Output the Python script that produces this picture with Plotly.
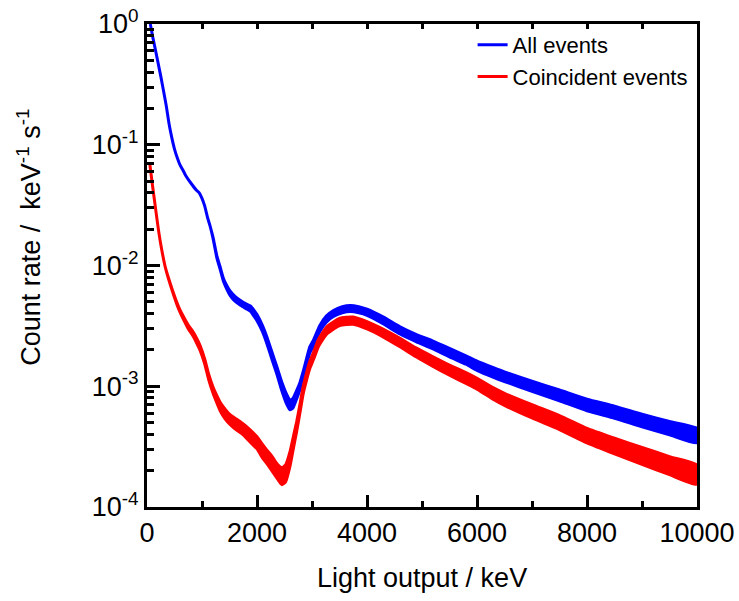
import plotly.graph_objects as go

# ---- data (keV, counts / keV / s) ----
energy_all = [60, 100, 150, 200, 250, 300, 350, 400, 450, 500,
              550, 600, 650, 700, 800, 900, 950, 1000, 1050, 1100,
              1150, 1200, 1270, 1330, 1390, 1450, 1510, 1600, 1700, 1800,
              1880, 1950, 2000, 2100, 2180, 2270, 2360, 2450, 2540, 2600,
              2650, 2720, 2780, 2850, 2960, 3030, 3140, 3260, 3390, 3550,
              3700, 3850, 4000, 4300, 4600, 4900, 5200, 5500, 5800, 6000,
              6300, 6500, 7000, 7500, 8000, 8500, 9000, 9500, 10000]
rate_all = [1.0, 0.80, 0.62, 0.48, 0.37, 0.28, 0.21, 0.15, 0.115, 0.092,
            0.078, 0.068, 0.062, 0.056, 0.048, 0.042, 0.040, 0.036, 0.031, 0.025,
            0.021, 0.017, 0.0118, 0.0095, 0.0076, 0.0066, 0.0059, 0.0053, 0.0049, 0.0046,
            0.0044, 0.0040, 0.0037, 0.0030, 0.0024, 0.0018, 0.00136, 0.0010, 0.00078, 0.00070,
            0.00072, 0.00085, 0.00100, 0.0013, 0.0020, 0.0023, 0.0030, 0.0036, 0.0040, 0.0043,
            0.0044, 0.0043, 0.0041, 0.0035, 0.0029, 0.0025, 0.0022, 0.0019, 0.00165, 0.00148,
            0.0013, 0.0012, 0.0010, 0.00084, 0.00070, 0.00061, 0.00052, 0.00045, 0.00039]
# half-width of the statistical-noise band (decades)
noise_all = [0, 0, 0, 0, 0, 0, 0, 0, 0, 0,
             0, 0, 0, 0, 0, 0, 0, 0, 0, 0,
             0, 0.005, 0.008, 0.01, 0.012, 0.015, 0.018, 0.02, 0.02, 0.02,
             0.022, 0.025, 0.025, 0.025, 0.028, 0.03, 0.03, 0.035, 0.04, 0.04,
             0.04, 0.035, 0.03, 0.025, 0.025, 0.025, 0.025, 0.025, 0.025, 0.025,
             0.025, 0.025, 0.025, 0.028, 0.03, 0.03, 0.032, 0.035, 0.035, 0.038,
             0.04, 0.04, 0.042, 0.045, 0.048, 0.05, 0.052, 0.055, 0.06]

energy_coinc = [50, 100, 150, 200, 250, 330, 420, 540, 600, 660,
                750, 840, 900, 960, 1050, 1120, 1200, 1270, 1330, 1420,
                1510, 1630, 1750, 1870, 2000, 2100, 2180, 2270, 2360, 2450,
                2520, 2600, 2660, 2720, 2780, 2840, 2900, 2960, 3030, 3120,
                3270, 3500, 3750, 4000, 4300, 4600, 4900, 5200, 5500, 5800,
                6000, 6300, 6500, 7000, 7500, 8000, 8500, 9000, 9500, 10000]
rate_coinc = [0.070, 0.046, 0.031, 0.021, 0.015, 0.0098, 0.0071, 0.0049, 0.0042, 0.0037,
              0.0031, 0.0027, 0.0024, 0.0021, 0.0016, 0.0012, 0.00093, 0.00078, 0.00068, 0.00059,
              0.00053, 0.00048, 0.00044, 0.00039, 0.00034, 0.00029, 0.00026, 0.00023, 0.00020, 0.00018,
              0.00019, 0.00025, 0.00034, 0.00046, 0.00065, 0.00093, 0.0012, 0.0015, 0.0018, 0.0023,
              0.0029, 0.0034, 0.0035, 0.0032, 0.00275, 0.0023, 0.0019, 0.0016, 0.00136, 0.00117,
              0.00105, 0.00087, 0.00078, 0.00062, 0.00050, 0.00039, 0.00032, 0.000265, 0.00022, 0.000185]
noise_coinc = [0, 0, 0, 0, 0, 0, 0.005, 0.008, 0.01, 0.012,
               0.015, 0.018, 0.02, 0.02, 0.02, 0.022, 0.025, 0.03, 0.035, 0.04,
               0.04, 0.045, 0.045, 0.05, 0.05, 0.055, 0.055, 0.06, 0.06, 0.07,
               0.07, 0.06, 0.05, 0.04, 0.035, 0.03, 0.03, 0.03, 0.03, 0.03,
               0.03, 0.03, 0.03, 0.03, 0.032, 0.035, 0.037, 0.04, 0.042, 0.045,
               0.045, 0.048, 0.05, 0.055, 0.058, 0.06, 0.065, 0.07, 0.075, 0.08]

series_names = ["All events", "Coincident events"]
series_colors = ["#0000FF", "#FF0000"]

y_tickvals = [1e-4, 1e-3, 1e-2, 1e-1, 1]
y_ticktext = ["10<sup>-4</sup>", "10<sup>-3</sup>", "10<sup>-2</sup>", "10<sup>-1</sup>", "10<sup>0</sup>"]
x_tickvals = [0, 2000, 4000, 6000, 8000, 10000]
x_ticktext = ["0", "2000", "4000", "6000", "8000", "10000"]

assert len(energy_all) == len(rate_all) == len(noise_all)
assert len(energy_coinc) == len(rate_coinc) == len(noise_coinc)


def band(xs, mid, hw):
    up = [m * 10 ** h for m, h in zip(mid, hw)]
    lo = [m / 10 ** h for m, h in zip(mid, hw)]
    return list(xs) + list(xs[::-1]), up + lo[::-1]


fig = go.Figure()
for xs, mid, hw, col in [(energy_all, rate_all, noise_all, series_colors[0]),
                         (energy_coinc, rate_coinc, noise_coinc, series_colors[1])]:
    bx, by = band(xs, mid, hw)
    fig.add_trace(go.Scatter(x=bx, y=by, mode="lines", fill="toself", fillcolor=col,
                             line=dict(color=col, width=3, shape="spline", smoothing=0.5),
                             showlegend=False, hoverinfo="skip"))

for name, col in zip(series_names, series_colors):
    fig.add_trace(go.Scatter(x=[None], y=[None], mode="lines", name=name,
                             line=dict(color=col, width=3)))

font_family = "Liberation Sans, Arial, sans-serif"
fig.update_layout(
    width=739, height=601,
    margin=dict(l=147, r=42, t=24, b=94, autoexpand=False),
    paper_bgcolor="white", plot_bgcolor="white",
    font=dict(family=font_family, size=27, color="black"),
    showlegend=True,
    legend=dict(x=0.592, y=1.0, xanchor="left", yanchor="top",
                bgcolor="rgba(0,0,0,0)", borderwidth=0,
                font=dict(size=22, family=font_family)),
    xaxis=dict(range=[0, 10000], tickvals=x_tickvals, ticktext=x_ticktext,
               ticks="inside", ticklen=12,
               tickwidth=3, tickcolor="black", showline=True, linewidth=3,
               linecolor="black", mirror=True, showgrid=False, zeroline=False,
               tickfont=dict(size=27),
               minor=dict(tickvals=[1000, 3000, 5000, 7000, 9000], ticks="inside",
                          ticklen=6, tickwidth=3, tickcolor="black", showgrid=False)),
    xaxis2=dict(range=[0, 10000], overlaying="x", side="top", tickmode="linear",
                tick0=0, dtick=1000, ticks="inside", ticklen=5, tickwidth=2.5,
                tickcolor="black", showticklabels=False, showgrid=False,
                zeroline=False, showline=False),
    yaxis=dict(type="log", range=[-4, 0], tickvals=y_tickvals, ticktext=y_ticktext,
               ticks="inside", ticklen=13, tickwidth=3, tickcolor="black",
               showline=True, linewidth=3, linecolor="black", mirror=True,
               showgrid=False, zeroline=False, tickfont=dict(size=27),
               minor=dict(tickvals=[m * 10 ** e for e in (-4, -3, -2, -1) for m in range(2, 10)],
                          ticks="inside", ticklen=7, tickwidth=3, tickcolor="black",
                          showgrid=False)),
    annotations=[
        dict(text="Light output / keV", xref="paper", yref="paper", x=0.5, y=-0.147,
             xanchor="center", yanchor="middle", showarrow=False,
             font=dict(size=27, family=font_family)),
        dict(text="Count rate /&nbsp; keV<sup>-1</sup> s<sup>-1</sup>", xref="paper",
             yref="paper", x=-0.215, y=0.559, xanchor="center", yanchor="middle",
             textangle=-90, showarrow=False, font=dict(size=27, family=font_family)),
    ],
)
# dummy trace to activate the top axis
fig.add_trace(go.Scatter(x=[None], y=[None], xaxis="x2", showlegend=False, hoverinfo="skip"))

fig.write_html("out.html")
